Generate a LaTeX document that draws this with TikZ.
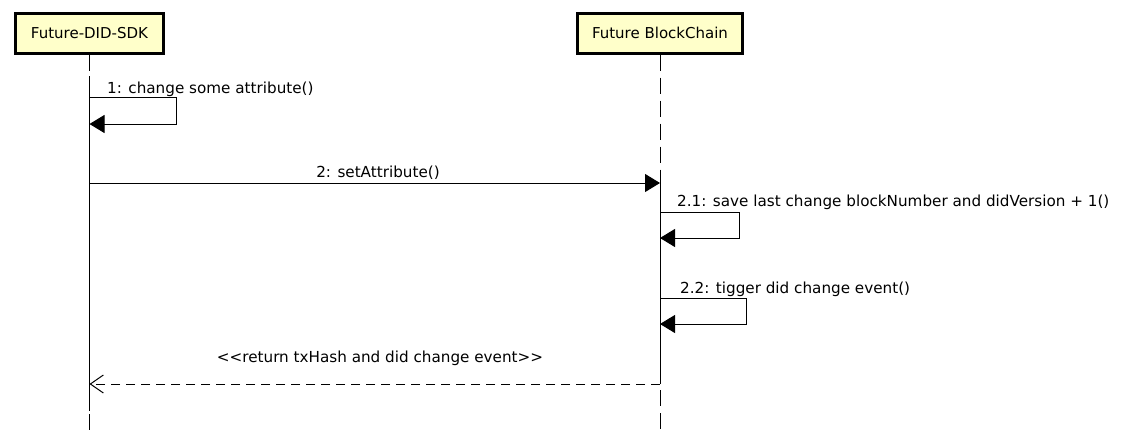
\documentclass[tikz,border=0pt]{standalone}
\usepackage{fontspec}
\setmainfont{DejaVu Sans}
\usetikzlibrary{arrows.meta,positioning}
\definecolor{boxyellow}{RGB}{255,255,202}
\tikzset{actor box/.style={draw,line width=3pt,fill=boxyellow,minimum height=40pt,inner xsep=15pt,font=\fontsize{15}{18}\selectfont},
  life line/.style={line width=1pt,dash pattern=on 16pt off 7pt},
  call/.style={line width=1pt,-{Triangle[length=15pt,width=18pt]}},
  reply/.style={line width=1pt,dash pattern=on 9pt off 6pt,-{Straight Barb[length=13pt,width=18pt,line width=1pt]}},
  msg/.style={font=\fontsize{15.2}{18}\selectfont,inner sep=0pt,anchor=base west}}

\begin{document}
\begin{tikzpicture}[x=1pt,y=-1pt]
\useasboundingbox (0,0) rectangle (1132,445);
\node[actor box] (sdk) at (89.5,33) {Future-DID-SDK};
\node[actor box] (chain) at (660,33) {Future BlockChain};
% lifeline points
\coordinate (sdk on) at (89.5,76);
\coordinate (sdk off) at (89.5,411);
\coordinate (sdk end) at (89.5,430);
\coordinate (chain on) at (660,184);
\coordinate (chain off) at (660,384);
\coordinate (chain end) at (660,430);
\draw[life line] (sdk.south) -- (sdk on);
\draw[line width=1pt] (sdk on) -- (sdk off);
\draw[life line,dash phase=-3pt] (sdk off) -- (sdk end);
\draw[life line] (chain.south) -- (chain on);
\draw[line width=1pt] (chain on) -- (chain off);
\draw[life line,dash phase=-6pt] (chain off) -- (chain end);
% messages
\coordinate (m1) at (89.5,97);
\coordinate (m1r) at (89.5,124);
\draw[call] (m1) -- ++(87,0) |- (m1r);
\node[msg] (m1 label) at (107,93) {1: change some attribute()};
\draw[call] (89.5,183) coordinate (m2) -- (m2 -| chain);
\node[msg,anchor=base] (m2 label) at (378,177) {2: setAttribute()};
\coordinate (m21) at (660,212);
\coordinate (m21r) at (660,238);
\draw[call] (m21) -- ++(79,0) |- (m21r);
\node[msg] (m21 label) at (677,206) {2.1: save last change blockNumber and didVersion + 1()};
\coordinate (m22) at (660,298);
\coordinate (m22r) at (660,324);
\draw[call] (m22) -- ++(86,0) |- (m22r);
\node[msg] (m22 label) at (680,293) {2.2: tigger did change event()};
\draw[reply] (chain off) -- (chain off -| sdk);
\node[msg,anchor=base] (ret label) at (380,362) {<{}<return txHash and did change event>{}>};
\end{tikzpicture}
\end{document}
